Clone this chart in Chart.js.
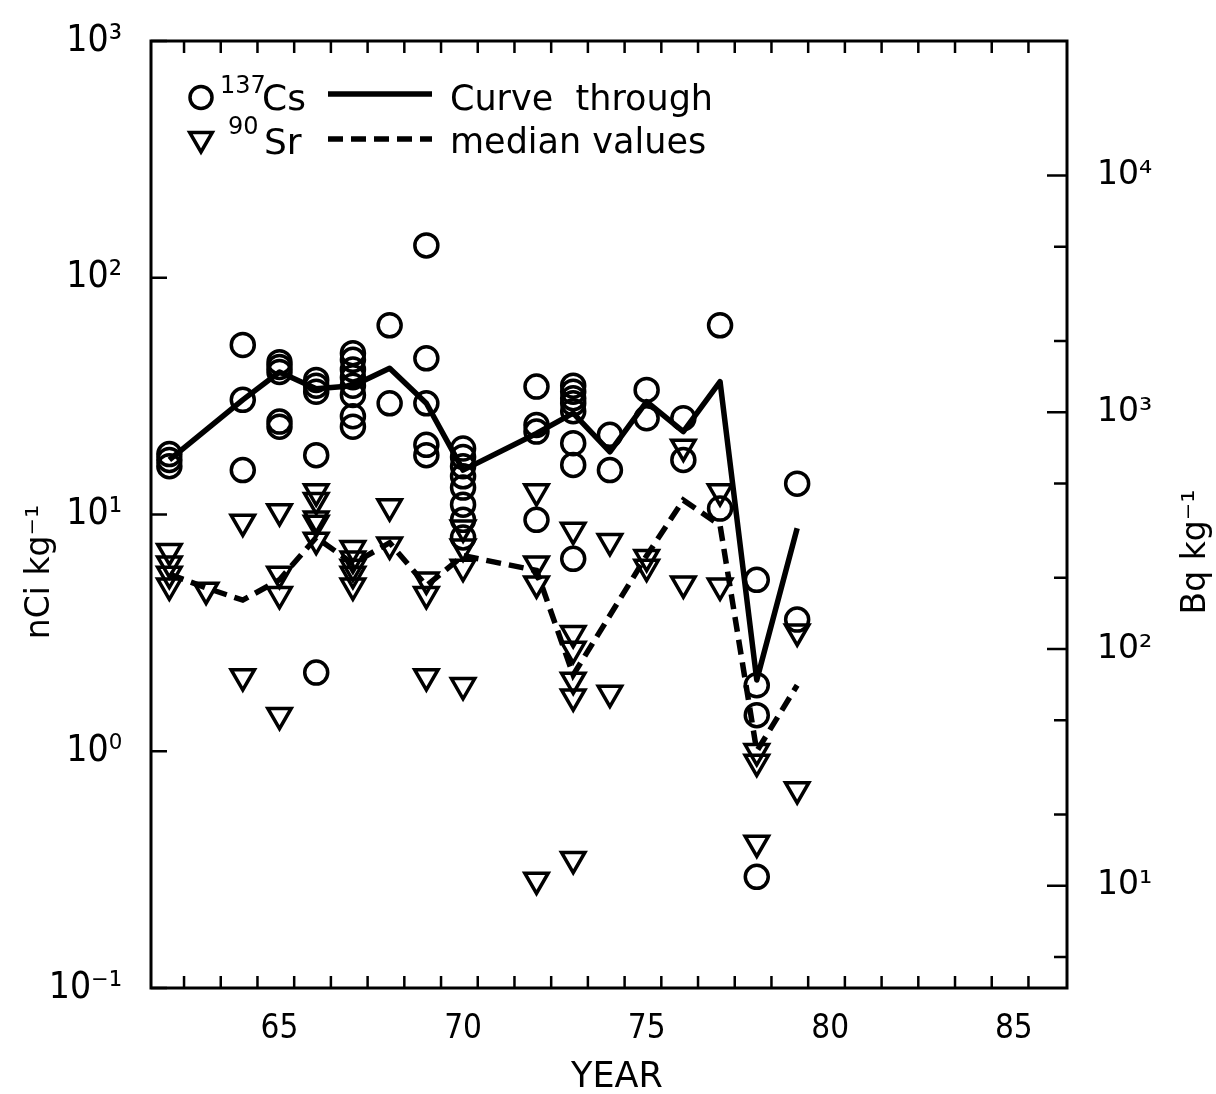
<!DOCTYPE html>
<html>
<head>
<meta charset="utf-8">
<script src="https://cdn.jsdelivr.net/npm/chart.js@4/dist/chart.umd.min.js"></script>
<style>
html,body{margin:0;padding:0;background:#fff;}
canvas{display:block;}
</style>
</head>
<body>
<canvas id="c" width="1216" height="1094"></canvas>
<script>
// ---- Data (nCi per kg) ----
const csYears = [62,62,62, 64,64,64, 65,65,65,65,65, 66,66,66,66,66,
  67,67,67,67,67,67,67,67, 68,68, 69,69,69,69,69,
  70,70,70,70,70,70,70,70, 72,72,72,72, 73,73,73,73,73,73,73,73,
  74,74, 75,75, 76,76, 77,77, 78,78,78,78, 79.1,79.1];
const csValues = [18,17,16, 52,30.5,15.4, 44,42,40,24.7,23.5, 37,35,33,17.8,2.15,
  48,45,41,38,35,32,26,23.5, 63,29.5, 137,45.7,29.5,19.7,17.8,
  19,17.5,16,14.5,13,11,9.5,8, 34.7,23.9,22.4,9.5, 35,33,31,29.5,27.3,20,16.2,6.5,
  21.7,15.4, 33.6,25.5, 25.5,17, 63,10.6, 5.3,1.9,1.42,0.295, 13.5,3.6];

const srYears = [62,62,62,62, 63, 64,64, 65,65,65,65, 66,66,66,66,66,
  67,67,67,67,67, 68,68, 69,69,69, 70,70,70,70, 72,72,72,72,
  73,73,73,73,73,73, 74,74, 75,75, 76,76, 77,77, 78,78,78, 79.1,79.1];
const srValues = [7.0,6.2,5.6,5.0, 4.8, 9.3,2.07, 10.3,5.6,4.6,1.42, 12.5,11.5,9.6,9.2,7.8,
  7.2,6.5,6.0,5.6,5.0, 10.8,7.45, 5.3,4.6,2.07, 8.8,7.3,6.0,1.9, 12.5,6.2,5.1,0.286,
  8.6,3.15,2.7,2.0,1.7,0.35, 7.7,1.76, 6.6,6.0, 19.3,5.1, 12.5,5.0, 1.0,0.9,0.41, 3.2,0.69];

const csMedianYears  = [62,64,65,66,67,68,69,70,72,73,74,75,76,77,78,79.1];
const csMedianValues = [17,30.5,40,34,35,41.5,29.5,15.4,22,26.8,18.4,30,22.4,36.4,2.0,8.75];

const srMedianYears  = [62,63,64,65,66,67,68,69,70,72,73,75,76,77,78,79.1];
const srMedianValues = [5.6,4.9,4.35,5.3,8.0,6.2,7.6,5.0,6.7,5.8,2.1,6.7,11.5,9.0,1.0,1.9];

// ---- Axes / ticks ----
const xTickLabels = [65,70,75,80,85];
const yearTickMarks = [62.4,63.4,64.4,65.4,66.4,67.4,68.4,69.4,70.4,71.4,72.4,73.4,74.4,75.4,76.4,77.4,78.4,79.4,80.4,81.4,82.4,83.4,84.4,85.4];
const nciTicks = [0.1,1,10,100,1000];
const nciTickLabels = ['10\u207B\u00B9','10\u2070','10\u00B9','10\u00B2','10\u00B3'];
const bqTicks = [10,100,1000,10000];
const bqTickLabels = ['10\u00B9','10\u00B2','10\u00B3','10\u2074'];
const bqMinorTicks = [5,20,50,200,500,2000,5000];
const BQ_PER_NCI = 37;

const COND = "'DejaVu Sans Condensed', 'DejaVu Sans', sans-serif";
const SANS = "'DejaVu Sans', sans-serif";

const pts = (xs, ys) => xs.map((x, i) => ({x: x, y: ys[i]}));
const noPad = s => { s.paddingTop = 0; s.paddingBottom = 0; s.paddingLeft = 0; s.paddingRight = 0; };

const extras = {
  id: 'extras',
  afterDatasetsDraw(chart) {
    const ctx = chart.ctx, a = chart.chartArea;
    const sx = chart.scales.x, sy = chart.scales.y, sy2 = chart.scales.y2;
    ctx.save();
    ctx.strokeStyle = '#000';
    ctx.fillStyle = '#000';
    ctx.lineWidth = 3;
    ctx.strokeRect(a.left, a.top, a.right - a.left, a.bottom - a.top);
    ctx.lineWidth = 2.5;
    ctx.beginPath();
    yearTickMarks.forEach(v => {
      const px = sx.getPixelForValue(v);
      ctx.moveTo(px, a.bottom); ctx.lineTo(px, a.bottom - 12);
      ctx.moveTo(px, a.top); ctx.lineTo(px, a.top + 12);
    });
    nciTicks.forEach(v => {
      const py = sy.getPixelForValue(v);
      ctx.moveTo(a.left, py); ctx.lineTo(a.left + 16, py);
    });
    bqTicks.forEach(v => {
      const py = sy2.getPixelForValue(v);
      ctx.moveTo(a.right, py); ctx.lineTo(a.right - 20, py);
    });
    bqMinorTicks.forEach(v => {
      const py = sy2.getPixelForValue(v);
      ctx.moveTo(a.right, py); ctx.lineTo(a.right - 13, py);
    });
    ctx.stroke();

    // legend
    ctx.lineWidth = 3.5;
    ctx.beginPath(); ctx.arc(201, 97.5, 11, 0, Math.PI * 2); ctx.stroke();
    ctx.beginPath();
    ctx.moveTo(201 - 11.3, 139 - 6.5); ctx.lineTo(201 + 11.3, 139 - 6.5); ctx.lineTo(201, 152); ctx.closePath();
    ctx.stroke();
    ctx.lineWidth = 5.5;
    ctx.beginPath(); ctx.moveTo(328, 94); ctx.lineTo(432, 94); ctx.stroke();
    ctx.setLineDash([15, 8]);
    ctx.beginPath(); ctx.moveTo(328, 139); ctx.lineTo(432, 139); ctx.stroke();
    ctx.setLineDash([]);
    ctx.textBaseline = 'alphabetic';
    ctx.textAlign = 'left';
    ctx.font = '24px ' + SANS;
    ctx.fillText('137', 220, 93);
    ctx.fillText('90', 228, 134);
    ctx.font = '36px ' + SANS;
    ctx.fillText('Cs', 262, 110);
    ctx.fillText('Sr', 264, 154);
    ctx.font = '35px ' + SANS;
    ctx.fillText('Curve  through', 450, 110);
    ctx.fillText('median values', 450, 153);

    // axis titles
    ctx.textAlign = 'center';
    ctx.textBaseline = 'middle';
    ctx.font = '35px ' + SANS;
    ctx.fillText('YEAR', 617, 1078);
    ctx.font = '33px ' + SANS;
    ctx.save(); ctx.translate(40, 572); ctx.rotate(-Math.PI / 2); ctx.fillText('nCi kg\u207B\u00B9', 0, 0); ctx.restore();
    ctx.save(); ctx.translate(1196, 552); ctx.rotate(-Math.PI / 2); ctx.fillText('Bq kg\u207B\u00B9', 0, 0); ctx.restore();
    ctx.restore();
  }
};

new Chart(document.getElementById('c'), {
  type: 'scatter',
  data: {
    datasets: [
      { label: 'Cs median', data: pts(csMedianYears, csMedianValues), showLine: true,
        borderColor: '#000', borderWidth: 5.5, pointRadius: 0, tension: 0, borderJoinStyle: 'round', order: 3 },
      { label: 'Sr median', data: pts(srMedianYears, srMedianValues), showLine: true,
        borderColor: '#000', borderWidth: 5.5, borderDash: [15, 8], pointRadius: 0, tension: 0, order: 4 },
      { label: '137Cs', data: pts(csYears, csValues), pointStyle: 'circle', pointRadius: 11.5,
        borderColor: '#000', backgroundColor: 'rgba(0,0,0,0)', pointBorderWidth: 3.5, borderWidth: 3.5, order: 1 },
      { label: '90Sr', data: pts(srYears, srValues), pointStyle: 'triangle', pointRotation: 180, pointRadius: 13.5,
        borderColor: '#000', backgroundColor: 'rgba(0,0,0,0)', pointBorderWidth: 3.5, borderWidth: 3.5, order: 2 }
    ]
  },
  options: {
    responsive: false,
    animation: false,
    devicePixelRatio: 1,
    events: [],
    layout: { padding: { top: 41, left: 0, right: 0, bottom: 0 } },
    plugins: { legend: { display: false }, tooltip: { enabled: false } },
    scales: {
      x: {
        type: 'linear', position: 'bottom', min: 61.5, max: 86.45,
        afterBuildTicks: s => { s.ticks = xTickLabels.map(v => ({ value: v })); },
        afterFit: s => { s.height = 106; noPad(s); },
        grid: { display: false, drawTicks: false }, border: { display: false },
        ticks: { autoSkip: false, maxRotation: 0, padding: 22, color: '#000',
          font: { family: COND, size: 33 }, callback: v => String(v) }
      },
      y: {
        type: 'logarithmic', position: 'left', min: 0.1, max: 1000,
        afterBuildTicks: s => { s.ticks = nciTicks.map(v => ({ value: v })); },
        afterFit: s => { s.width = 151; noPad(s); },
        grid: { display: false, drawTicks: false }, border: { display: false },
        ticks: { autoSkip: false, padding: 29, color: '#000', font: { family: COND, size: 37 },
          callback: v => { const i = nciTicks.indexOf(v); return i >= 0 ? nciTickLabels[i] : ''; } }
      },
      y2: {
        type: 'logarithmic', position: 'right', min: 0.1 * BQ_PER_NCI, max: 1000 * BQ_PER_NCI,
        afterBuildTicks: s => { s.ticks = bqTicks.map(v => ({ value: v })); },
        afterFit: s => { s.width = 149; noPad(s); },
        grid: { display: false, drawTicks: false }, border: { display: false },
        ticks: { autoSkip: false, padding: 30, color: '#000', font: { family: SANS, size: 33 },
          callback: v => { const i = bqTicks.indexOf(v); return i >= 0 ? bqTickLabels[i] : ''; } }
      }
    }
  },
  plugins: [extras]
});
</script>
</body>
</html>
